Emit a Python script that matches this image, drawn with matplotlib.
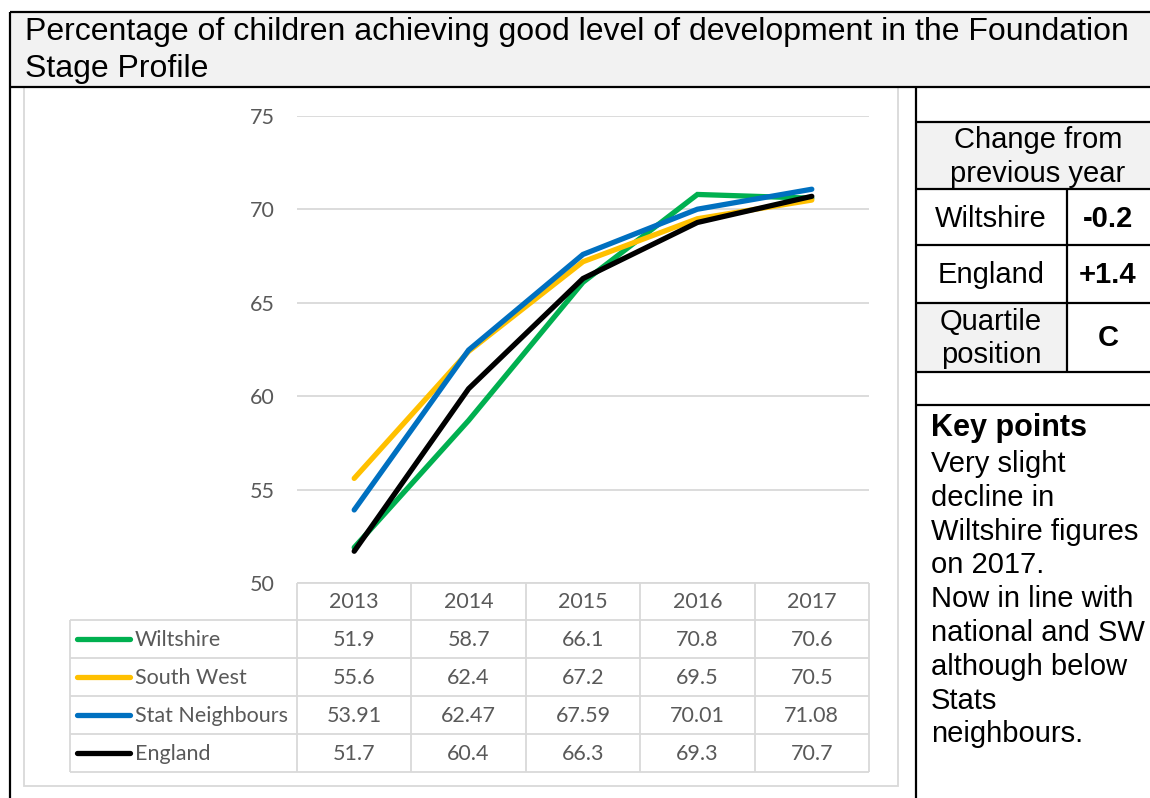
import matplotlib
matplotlib.use("Agg")
import matplotlib.pyplot as plt
from matplotlib.patches import Rectangle
from matplotlib.lines import Line2D

# ---------------- data ----------------
years = ["2013", "2014", "2015", "2016", "2017"]
series_names = ["Wiltshire", "South West", "Stat Neighbours", "England"]
wiltshire = [51.9, 58.7, 66.1, 70.8, 70.6]
south_west = [55.6, 62.4, 67.2, 69.5, 70.5]
stat_neighbours = [53.91, 62.47, 67.59, 70.01, 71.08]
england = [51.7, 60.4, 66.3, 69.3, 70.7]
table_labels = ["51.9", "58.7", "66.1", "70.8", "70.6"], \
               ["55.6", "62.4", "67.2", "69.5", "70.5"], \
               ["53.91", "62.47", "67.59", "70.01", "71.08"], \
               ["51.7", "60.4", "66.3", "69.3", "70.7"]
colors = ["#00B050", "#FFC000", "#0070C0", "#000000"]
y_ticks = [50, 55, 60, 65, 70, 75]

title_lines = ["Percentage of children achieving good level of development in the Foundation",
               "Stage Profile"]
change_header = ["Change from", "previous year"]
change_rows = [("Wiltshire", "-0.2"), ("England", "+1.4")]
quartile_label = ["Quartile", "position"]
quartile_value = "C"
key_title = "Key points"
key_lines = ["Very slight", "decline in", "Wiltshire figures", "on 2017.",
             "Now in line with", "national and SW", "although below",
             "Stats", "neighbours."]

series = [wiltshire, south_west, stat_neighbours, england]

W, H = 1150, 798
fig = plt.figure(figsize=(W / 100, H / 100), dpi=100)
fig.patch.set_facecolor("white")

# overlay axes in pixel coordinates
ov = fig.add_axes([0, 0, 1, 1], zorder=0)
ov.set_xlim(0, W)
ov.set_ylim(H, 0)
ov.axis("off")

ARIAL = "Liberation Sans"
CAL = "Lato"
GRAYTXT = "#595959"
GRID = "#d9d9d9"

# ---- document table ----
ov.add_patch(Rectangle((10, 12), W - 10, 75, facecolor="#f2f2f2", edgecolor="none"))
ov.add_patch(Rectangle((916, 122), W - 916, 67, facecolor="#f2f2f2", edgecolor="none"))
ov.add_patch(Rectangle((916, 303), 1067 - 916, 69, facecolor="#f2f2f2", edgecolor="none"))

lw_doc = 1.6
def hline(y, x0, x1, c="black", lw=lw_doc):
    ov.add_line(Line2D([x0, x1], [y, y], color=c, lw=lw, solid_capstyle="butt"))
def vline(x, y0, y1, c="black", lw=lw_doc):
    ov.add_line(Line2D([x, x], [y0, y1], color=c, lw=lw, solid_capstyle="butt"))

hline(12, 10, W)
hline(87, 10, W)
vline(10, 12, H)
vline(916, 87, H)
for yy in [122, 189, 245, 303, 372, 405]:
    hline(yy, 916, W)
vline(1067, 189, 372)

# title
for i, t in enumerate(title_lines):
    ov.text(25, 32 + i * 37, t, fontsize=23, family=ARIAL, va="center", ha="left", color="black")

# right panel
RP = 21
ov.text(1038, 140, change_header[0], fontsize=RP, family=ARIAL, ha="center", va="center")
ov.text(1038, 174, change_header[1], fontsize=RP, family=ARIAL, ha="center", va="center")
for i, (lab, val) in enumerate(change_rows):
    yc = [219, 275][i]
    ov.text(991, yc, lab, fontsize=RP, family=ARIAL, ha="center", va="center")
    ov.text(1108, yc, val, fontsize=RP, family=ARIAL, ha="center", va="center", weight="bold")
ov.text(991, 322, quartile_label[0], fontsize=RP, family=ARIAL, ha="center", va="center")
ov.text(991, 355, quartile_label[1], fontsize=RP, family=ARIAL, ha="center", va="center")
ov.text(1108, 338, quartile_value, fontsize=RP, family=ARIAL, ha="center", va="center", weight="bold")

ov.text(931, 428, key_title, fontsize=RP + 1, family=ARIAL, ha="left", va="center", weight="bold")
for i, t in enumerate(key_lines):
    ov.text(931, 464 + i * 33.8, t, fontsize=RP, family=ARIAL, ha="left", va="center")

# ---- chart box ----
ov.add_patch(Rectangle((24, 87), 874, 699, facecolor="white", edgecolor=GRID, lw=1.3))

# ---- plot axes ----
px0, px1 = 297, 869
py_top, py_bot = 116, 583
ax = fig.add_axes([px0 / W, 1 - py_bot / H, (px1 - px0) / W, (py_bot - py_top) / H], zorder=2)
ax.patch.set_alpha(0)
xs = list(range(len(years)))
for vals, c in zip(series, colors):
    ax.plot(xs, vals, color=c, lw=3.8, solid_capstyle="round", solid_joinstyle="miter", zorder=3)
ax.set_xlim(-0.5, len(years) - 0.5)
ax.set_ylim(50, 75)
ax.set_yticks(y_ticks)
ax.yaxis.grid(True, color=GRID, lw=1.3)
ax.set_axisbelow(True)
ax.tick_params(axis="y", length=0, pad=15.8, labelsize=15.5, labelcolor=GRAYTXT)
for lab in ax.get_yticklabels():
    lab.set_family(CAL)
ax.set_xticks([])
for s in ax.spines.values():
    s.set_visible(False)

# ---- data table (below plot) ----
col_w = (px1 - px0) / len(years)
row_edges = [583, 620, 658, 696, 734, 772]
tab_left = 70
TS = 15.5
# horizontal lines
hline(row_edges[0], px0, px1, GRID, 1.3)
for yy in row_edges[1:]:
    hline(yy, tab_left, px1, GRID, 1.3)
# vertical lines
vline(tab_left, row_edges[1], row_edges[-1], GRID, 1.3)
for j in range(len(years) + 1):
    vline(px0 + j * col_w, row_edges[0], row_edges[-1], GRID, 1.3)
# header
for j, yr in enumerate(years):
    ov.text(px0 + (j + 0.5) * col_w, (row_edges[0] + row_edges[1]) / 2 + 1, yr,
            fontsize=TS, family=CAL, color=GRAYTXT, ha="center", va="center")
for i, name in enumerate(series_names):
    yc = (row_edges[i + 1] + row_edges[i + 2]) / 2
    ov.add_line(Line2D([77, 130], [yc, yc], color=colors[i], lw=3.8, solid_capstyle="round"))
    ov.text(135, yc + 1, name, fontsize=TS, family=CAL, color=GRAYTXT, ha="left", va="center")
    for j in range(len(years)):
        ov.text(px0 + (j + 0.5) * col_w, yc + 1, table_labels[i][j],
                fontsize=TS, family=CAL, color=GRAYTXT, ha="center", va="center")

fig.savefig("out.png", dpi=100, facecolor="white")
